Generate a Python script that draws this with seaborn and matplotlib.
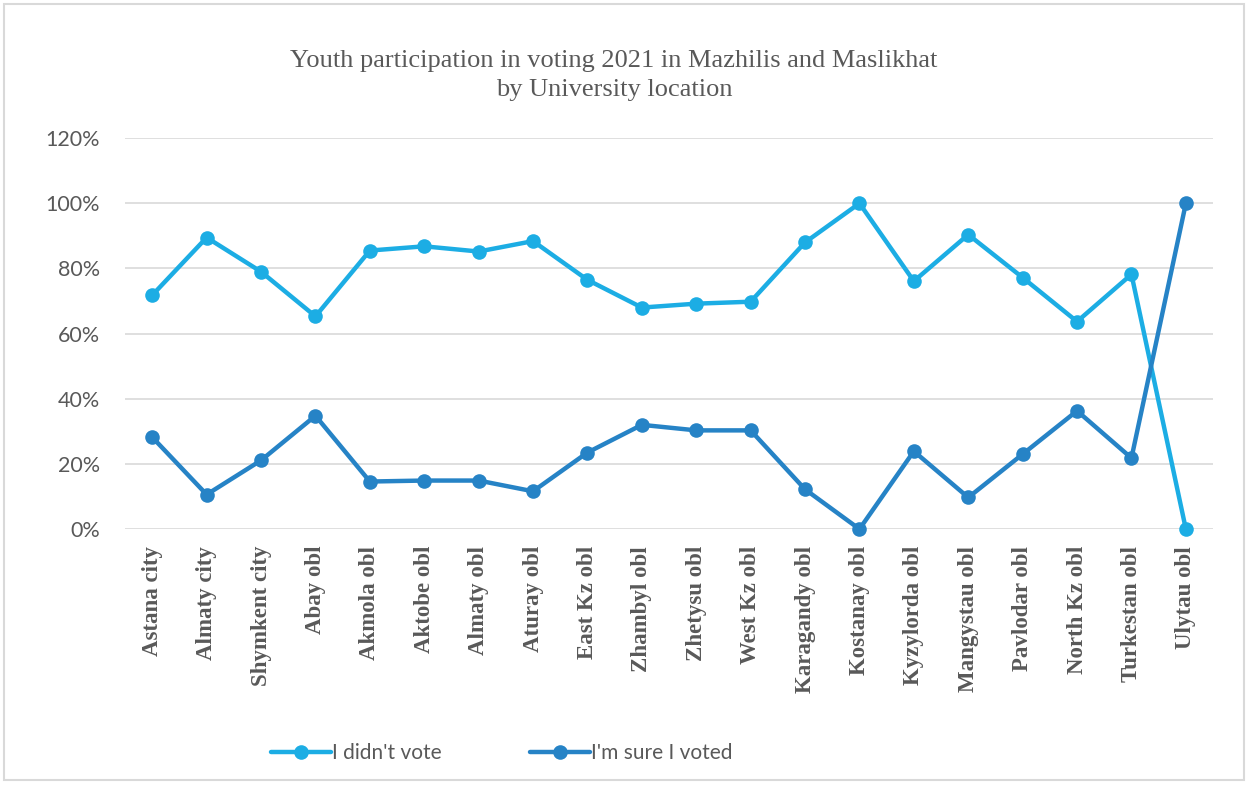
import matplotlib
matplotlib.use("Agg")
import matplotlib.pyplot as plt
from matplotlib.patches import Rectangle
from matplotlib.ticker import PercentFormatter
import seaborn as sns
import pandas as pd

regions = ["Astana city", "Almaty city", "Shymkent city", "Abay obl", "Akmola obl",
           "Aktobe obl", "Almaty obl", "Aturay obl", "East Kz obl", "Zhambyl obl",
           "Zhetysu obl", "West Kz obl", "Karagandy obl", "Kostanay obl", "Kyzylorda obl",
           "Mangystau obl", "Pavlodar obl", "North Kz obl", "Turkestan obl", "Ulytau obl"]
didnt_vote = [71.8, 89.5, 79.0, 65.3, 85.5, 86.8, 85.2, 88.4, 76.5, 68.0,
              69.2, 69.8, 88.0, 100.0, 76.1, 90.4, 77.2, 63.7, 78.2, 0.0]
sure_voted = [28.2, 10.6, 21.1, 34.8, 14.6, 14.9, 14.9, 11.6, 23.5, 32.0,
              30.3, 30.3, 12.2, 0.0, 23.9, 9.7, 23.0, 36.3, 21.8, 100.0]
series_names = ["I didn't vote", "I'm sure I voted"]
series_colors = ["#1CADE4", "#2683C6"]

df = pd.DataFrame({
    "region": regions * 2,
    "idx": list(range(len(regions))) * 2,
    "share": didnt_vote + sure_voted,
    "answer": [series_names[0]] * len(regions) + [series_names[1]] * len(regions),
})

sns.set_theme(style="white")
plt.rcParams["font.family"] = ["Lato", "DejaVu Sans"]

fig = plt.figure(figsize=(12.48, 7.85), dpi=100)
ax = fig.add_axes([0.1002, 0.326, 0.8718, 0.498])

sns.lineplot(data=df, x="idx", y="share", hue="answer", hue_order=series_names,
             palette=series_colors, marker="o", markersize=10.5, linewidth=3.2,
             markeredgewidth=0, ax=ax, legend=False, sort=False)
for ln in ax.lines:
    ln.set_clip_on(False)

ax.set_xlim(-0.5, len(regions) - 0.5)
ax.set_ylim(0, 120)
ax.set_yticks(range(0, 121, 20))
ax.yaxis.set_major_formatter(PercentFormatter(decimals=0))
ax.set_xticks(range(len(regions)))
ax.set_xticklabels(regions, rotation=90, family="Liberation Serif",
                   fontweight="bold", fontsize=16.5, color="#595959")
ax.tick_params(axis="x", length=0, pad=12)
ax.tick_params(axis="y", length=0, pad=18, labelsize=15.5, labelcolor="#595959")
ax.grid(axis="y", color="#D9D9D9", linewidth=1.2)
ax.set_axisbelow(True)
ax.set_xlabel("")
ax.set_ylabel("")
for s in ax.spines.values():
    s.set_visible(False)

fig.text(0.492, 0.904, "Youth participation in voting 2021 in Mazhilis and Maslikhat\nby University location",
         ha="center", va="center", family="Liberation Serif", fontsize=19,
         color="#595959", linespacing=1.42)

handles = [plt.Line2D([], [], color=c, lw=3.2, marker="o", markersize=10.5, markeredgewidth=0)
           for c in series_colors]
fig.legend(handles, series_names, loc="center", bbox_to_anchor=(0.402, 0.041), ncol=2,
           frameon=False, fontsize=15, handlelength=2.9, handletextpad=0.05,
           columnspacing=4.2, labelcolor="#595959")

fig.patches.append(Rectangle((4 / 1248, 5 / 785), 1240 / 1248, 776 / 785,
                             transform=fig.transFigure, fill=False,
                             edgecolor="#D9D9D9", linewidth=1.5))

fig.savefig("out.png", dpi=100)
